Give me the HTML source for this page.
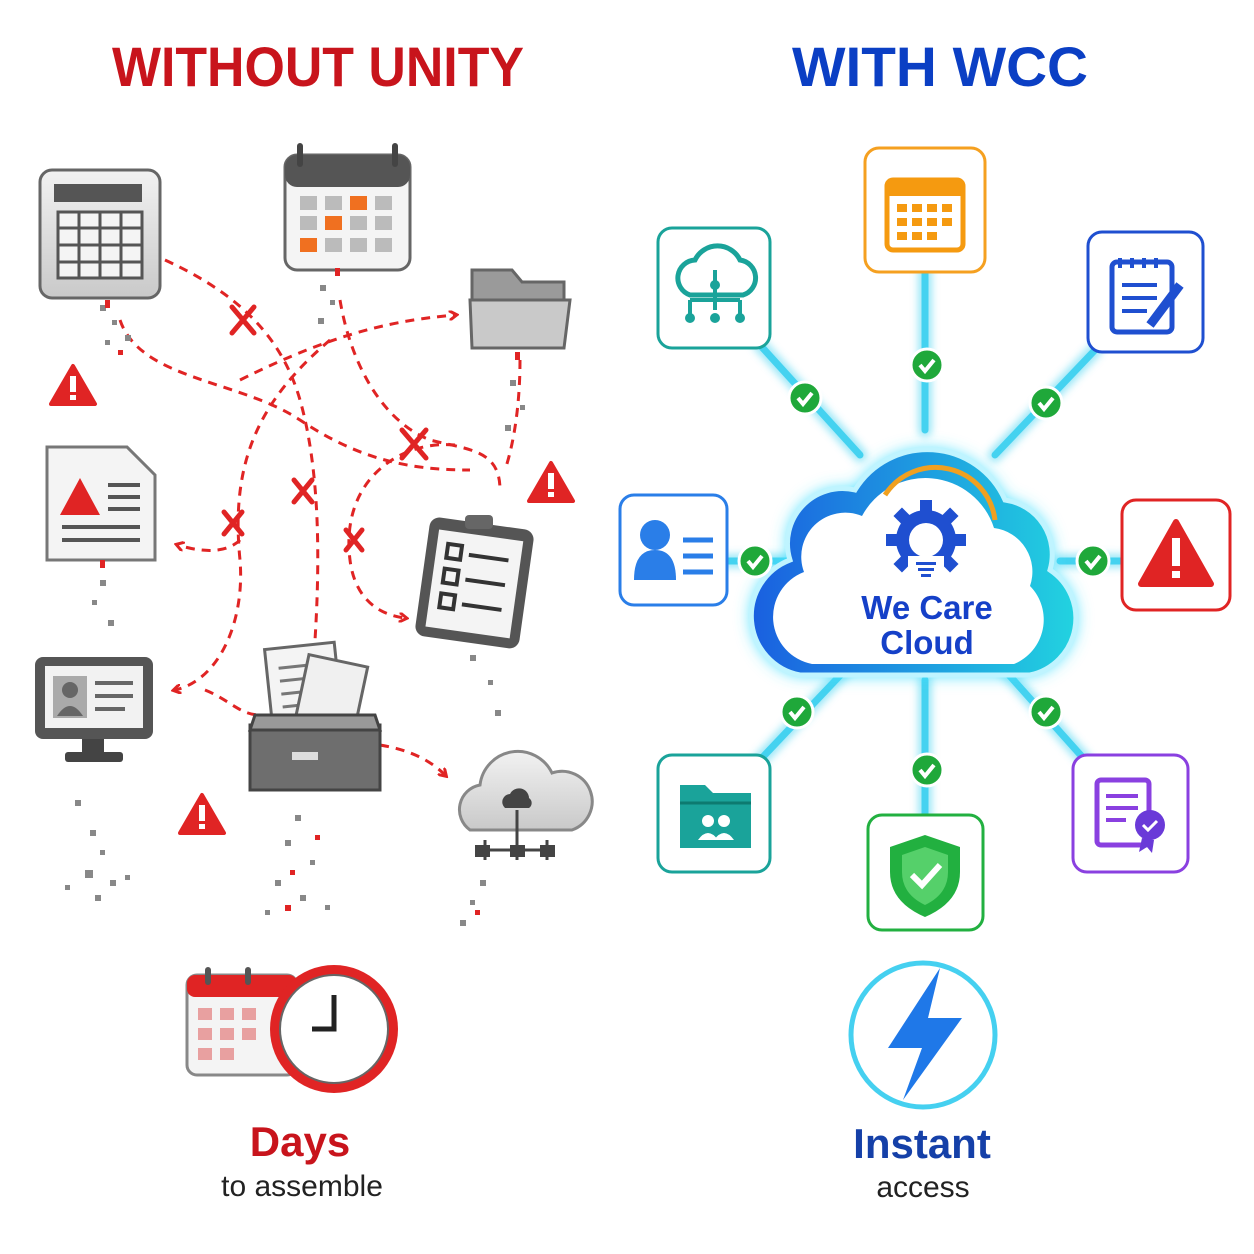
<!DOCTYPE html>
<html><head><meta charset="utf-8"><style>
html,body{margin:0;padding:0;background:#fff;}
svg{display:block;font-family:"Liberation Sans",sans-serif;}
</style></head><body>
<svg width="1254" height="1254" viewBox="0 0 1254 1254" xmlns="http://www.w3.org/2000/svg">
<defs>
<filter id="glow" x="-50%" y="-50%" width="200%" height="200%"><feGaussianBlur stdDeviation="8"/></filter>
<filter id="g2" x="-50%" y="-50%" width="200%" height="200%"><feGaussianBlur stdDeviation="4"/></filter>
<linearGradient id="cg" x1="0" y1="0" x2="1" y2="0"><stop offset="0" stop-color="#1a5fe0"/><stop offset="1" stop-color="#22d3e0"/></linearGradient>
<linearGradient id="gray" x1="0" y1="0" x2="0" y2="1"><stop offset="0" stop-color="#f2f2f2"/><stop offset="1" stop-color="#c9c9c9"/></linearGradient>
<marker id="ar" markerWidth="10" markerHeight="10" refX="6" refY="5" orient="auto" markerUnits="userSpaceOnUse"><path d="M0 0 L8 5 L0 10" fill="none" stroke="#e02424" stroke-width="3"/></marker>
</defs>
<rect width="1254" height="1254" fill="#fff"/>
<text x="318" y="86" text-anchor="middle" font-size="56" font-weight="bold" fill="#c8141c" textLength="412" lengthAdjust="spacingAndGlyphs">WITHOUT UNITY</text>
<text x="940" y="86" text-anchor="middle" font-size="56" font-weight="bold" fill="#0b3fc4" textLength="296" lengthAdjust="spacingAndGlyphs">WITH WCC</text>

<g fill="none" stroke="#e02424" stroke-width="3" stroke-dasharray="9,7">
<path d="M165 260 C230 290 280 330 300 400 C320 470 320 560 315 640"/>
<path d="M120 320 C140 380 240 380 300 420 C360 460 410 470 470 470"/>
<path d="M240 380 C340 330 400 320 455 315" marker-end="url(#ar)"/>
<path d="M340 300 C350 360 380 420 430 440 C470 450 500 450 500 490"/>
<path d="M455 445 C400 440 340 480 350 560 C355 600 380 615 405 618" marker-end="url(#ar)"/>
<path d="M330 340 C260 400 230 460 240 560 C245 620 220 680 175 690" marker-end="url(#ar)"/>
<path d="M240 540 C230 550 210 555 178 545" marker-end="url(#ar)"/>
<path d="M205 690 C230 700 240 715 260 715"/>
<path d="M380 745 C410 750 430 760 445 775" marker-end="url(#ar)"/>
<path d="M520 360 C520 400 515 440 505 470"/>
</g>
<g stroke="#e02424" stroke-width="5" stroke-linecap="round">
<path d="M232 307l22 26M254 307l-22 26"/><path d="M402 430l24 28M426 430l-24 28"/>
<path d="M294 480l18 22M312 480l-18 22"/><path d="M224 512l18 22M242 512l-18 22"/><path d="M346 530l16 20M362 530l-16 20"/>
</g>
<g>
<path d="M73 366 L95 404 L51 404 Z" fill="#e02424" stroke="#e02424" stroke-linejoin="round" stroke-width="4"/>
<path d="M551 463 L573 501 L529 501 Z" fill="#e02424" stroke="#e02424" stroke-linejoin="round" stroke-width="4"/>
<path d="M202 795 L224 833 L180 833 Z" fill="#e02424" stroke="#e02424" stroke-linejoin="round" stroke-width="4"/>
<g fill="#fff"><rect x="70" y="376" width="6" height="16"/><rect x="70" y="395" width="6" height="5"/><rect x="548" y="473" width="6" height="16"/><rect x="548" y="492" width="6" height="5"/><rect x="199" y="805" width="6" height="16"/><rect x="199" y="824" width="6" height="5"/></g>
</g>
<rect x="40" y="170" width="120" height="128" rx="12" fill="url(#gray)" stroke="#666" stroke-width="3"/>
<rect x="54" y="184" width="88" height="18" fill="#555"/>
<g stroke="#555" stroke-width="3" fill="#f4f4f4"><rect x="58" y="212" width="84" height="66"/><path d="M58 228h84M58 245h84M58 262h84M79 212v66M100 212v66M121 212v66"/></g>
<rect x="285" y="155" width="125" height="115" rx="12" fill="#f4f4f4" stroke="#666" stroke-width="3"/>
<rect x="285" y="155" width="125" height="32" rx="12" fill="#555"/>
<rect x="297" y="143" width="6" height="24" rx="3" fill="#444"/><rect x="392" y="143" width="6" height="24" rx="3" fill="#444"/>
<g fill="#bbb"><rect x="300" y="196" width="17" height="14"/><rect x="325" y="196" width="17" height="14"/><rect x="350" y="196" width="17" height="14" fill="#f07020"/><rect x="375" y="196" width="17" height="14"/>
<rect x="300" y="216" width="17" height="14"/><rect x="325" y="216" width="17" height="14" fill="#f07020"/><rect x="350" y="216" width="17" height="14"/><rect x="375" y="216" width="17" height="14"/>
<rect x="300" y="238" width="17" height="14" fill="#f07020"/><rect x="325" y="238" width="17" height="14"/><rect x="350" y="238" width="17" height="14"/><rect x="375" y="238" width="17" height="14"/></g>
<path d="M472 270 h40 l10 12 h42 v65 h-92 z" fill="#9a9a9a" stroke="#666" stroke-width="3"/>
<path d="M470 300 h100 l-6 48 h-92 z" fill="#c9c9c9" stroke="#666" stroke-width="3"/>
<path d="M47 447 h80 l28 28 v85 h-108 z" fill="#f4f4f4" stroke="#777" stroke-width="3"/>
<path d="M80 478 L100 515 L60 515 Z" fill="#e02424"/>
<g stroke="#555" stroke-width="4"><path d="M108 485h32M108 497h32M108 509h32M62 527h78M62 540h78"/></g>
<rect x="422" y="523" width="105" height="120" rx="10" fill="#555" transform="rotate(8 475 583)"/>
<rect x="432" y="535" width="85" height="98" fill="#f4f4f4" transform="rotate(8 475 583)"/>
<rect x="465" y="515" width="28" height="14" rx="4" fill="#666"/>
<g stroke="#333" stroke-width="4" fill="none" transform="rotate(8 475 583)"><rect x="443" y="548" width="14" height="14"/><rect x="443" y="573" width="14" height="14"/><rect x="443" y="598" width="14" height="14"/><path d="M465 556h40M465 581h40M465 606h40"/></g>
<rect x="35" y="657" width="118" height="82" rx="8" fill="#555"/>
<rect x="45" y="666" width="98" height="62" fill="#f2f2f2"/>
<rect x="53" y="676" width="34" height="42" fill="#aaa"/><circle cx="70" cy="690" r="8" fill="#666"/><path d="M57 716 q13 -20 26 0z" fill="#666"/>
<g stroke="#666" stroke-width="4"><path d="M95 683h38M95 696h38M95 709h30"/></g>
<rect x="82" y="739" width="22" height="14" fill="#444"/><rect x="65" y="752" width="58" height="10" rx="3" fill="#444"/>
<g transform="rotate(-6 310 680)"><rect x="268" y="645" width="70" height="90" fill="#f4f4f4" stroke="#666" stroke-width="3"/><g stroke="#777" stroke-width="3"><path d="M280 665h45M280 678h45M280 691h45M280 704h45"/></g></g>
<rect x="300" y="660" width="60" height="80" fill="#f0f0f0" stroke="#666" stroke-width="3" transform="rotate(12 330 700)"/>
<path d="M250 725 h130 v65 h-130 z" fill="#6e6e6e" stroke="#444" stroke-width="3"/>
<path d="M255 715 h120 l5 15 h-130 z" fill="#999" stroke="#444" stroke-width="3"/>
<rect x="292" y="752" width="26" height="8" fill="#ddd"/>
<path d="M470 830 a25 25 0 0 1 10 -45 a38 38 0 0 1 72 -12 a28 28 0 0 1 20 57 z" fill="url(#gray)" stroke="#888" stroke-width="3"/>
<path d="M505 808 a8 8 0 0 1 5 -14 a10 10 0 0 1 19 4 a6 6 0 0 1 0 10z" fill="#444"/>
<path d="M517 810v30M485 850h62M485 840v20M517 840v20M547 840v20" stroke="#444" stroke-width="3"/>
<rect x="475" y="845" width="15" height="12" fill="#444"/><rect x="510" y="845" width="15" height="12" fill="#444"/><rect x="540" y="845" width="15" height="12" fill="#444"/>
<g fill="#888">
<rect x="100" y="305" width="6" height="6"/><rect x="112" y="320" width="5" height="5"/><rect x="125" y="335" width="6" height="6"/><rect x="105" y="340" width="5" height="5"/>
<rect x="320" y="285" width="6" height="6"/><rect x="330" y="300" width="5" height="5"/><rect x="318" y="318" width="6" height="6"/>
<rect x="510" y="380" width="6" height="6"/><rect x="520" y="405" width="5" height="5"/><rect x="505" y="425" width="6" height="6"/>
<rect x="100" y="580" width="6" height="6"/><rect x="92" y="600" width="5" height="5"/><rect x="108" y="620" width="6" height="6"/>
<rect x="470" y="655" width="6" height="6"/><rect x="488" y="680" width="5" height="5"/><rect x="495" y="710" width="6" height="6"/>
<rect x="75" y="800" width="6" height="6"/><rect x="90" y="830" width="6" height="6"/><rect x="100" y="850" width="5" height="5"/><rect x="85" y="870" width="8" height="8"/><rect x="110" y="880" width="6" height="6"/><rect x="65" y="885" width="5" height="5"/><rect x="95" y="895" width="6" height="6"/><rect x="125" y="875" width="5" height="5"/>
<rect x="295" y="815" width="6" height="6"/><rect x="285" y="840" width="6" height="6"/><rect x="310" y="860" width="5" height="5"/><rect x="275" y="880" width="6" height="6"/><rect x="300" y="895" width="6" height="6"/><rect x="325" y="905" width="5" height="5"/><rect x="265" y="910" width="5" height="5"/>
<rect x="480" y="880" width="6" height="6"/><rect x="470" y="900" width="5" height="5"/><rect x="460" y="920" width="6" height="6"/>
</g>
<g fill="#e02424"><rect x="118" y="350" width="5" height="5"/><rect x="290" y="870" width="5" height="5"/><rect x="315" y="835" width="5" height="5"/><rect x="285" y="905" width="6" height="6"/><rect x="475" y="910" width="5" height="5"/><rect x="100" y="560" width="5" height="8"/><rect x="335" y="268" width="5" height="8"/><rect x="515" y="352" width="5" height="8"/><rect x="105" y="300" width="5" height="8"/></g>
<rect x="187" y="975" width="110" height="100" rx="10" fill="#f4f4f4" stroke="#888" stroke-width="3"/>
<rect x="187" y="975" width="110" height="22" rx="8" fill="#e02424"/>
<rect x="205" y="967" width="6" height="18" rx="3" fill="#555"/><rect x="245" y="967" width="6" height="18" rx="3" fill="#555"/>
<g fill="#e8a0a0"><rect x="198" y="1008" width="14" height="12"/><rect x="220" y="1008" width="14" height="12"/><rect x="242" y="1008" width="14" height="12"/><rect x="198" y="1028" width="14" height="12"/><rect x="220" y="1028" width="14" height="12"/><rect x="242" y="1028" width="14" height="12"/><rect x="198" y="1048" width="14" height="12"/><rect x="220" y="1048" width="14" height="12"/></g>
<circle cx="334" cy="1029" r="64" fill="#e02424"/><circle cx="334" cy="1029" r="54" fill="#fff" stroke="#666" stroke-width="2"/>
<path d="M334 995v34h-22" stroke="#222" stroke-width="5" fill="none"/>
<text x="300" y="1156" text-anchor="middle" font-size="42" font-weight="bold" fill="#c8141c">Days</text>
<text x="302" y="1196" text-anchor="middle" font-size="30" fill="#222">to assemble</text>

<g stroke="#3ad0f0" stroke-width="14" stroke-linecap="round" opacity="0.5" filter="url(#g2)">
<path d="M760 345 L860 455"/><path d="M925 272 L925 430"/><path d="M1095 350 L995 455"/>
<path d="M727 561 L790 561"/><path d="M1122 561 L1060 561"/>
<path d="M760 760 L850 665"/><path d="M925 680 L925 815"/><path d="M1085 760 L1000 665"/>
</g>
<g stroke="#3ad0f0" stroke-width="7" stroke-linecap="round" opacity="0.9">
<path d="M760 345 L860 455"/><path d="M925 272 L925 430"/><path d="M1095 350 L995 455"/>
<path d="M727 561 L790 561"/><path d="M1122 561 L1060 561"/>
<path d="M760 760 L850 665"/><path d="M925 680 L925 815"/><path d="M1085 760 L1000 665"/>
</g>
<path d="M800 675 a60 60 0 0 1 -10 -115 a55 55 0 0 1 65 -70 a85 85 0 0 1 150 10 a55 55 0 0 1 45 70 a58 58 0 0 1 -20 105 z" fill="#40e0ff" filter="url(#glow)"/>
<path d="M800 675 a60 60 0 0 1 -10 -115 a55 55 0 0 1 65 -70 a85 85 0 0 1 150 10 a55 55 0 0 1 45 70 a58 58 0 0 1 -20 105 z" fill="url(#cg)" stroke="#bff4ff" stroke-width="5"/>
<path d="M812 664 a48 48 0 0 1 -8 -92 a44 44 0 0 1 58 -56 a72 72 0 0 1 132 12 a44 44 0 0 1 36 58 a48 48 0 0 1 -16 78 z" fill="#fff"/>
<path d="M885 495 a60 60 0 0 1 110 25" stroke="#f0a020" stroke-width="5" fill="none"/>
<g fill="#1f4fd0"><circle cx="926" cy="540" r="30"/><circle cx="926" cy="540" r="17" fill="#fff"/>
<g transform="translate(926 540)"><rect x="-6" y="-40" width="12" height="14"/><rect x="-6" y="-40" width="12" height="14" transform="rotate(45)"/><rect x="-6" y="-40" width="12" height="14" transform="rotate(90)"/><rect x="-6" y="-40" width="12" height="14" transform="rotate(-45)"/><rect x="-6" y="-40" width="12" height="14" transform="rotate(-90)"/><rect x="-6" y="-40" width="12" height="14" transform="rotate(135)"/><rect x="-6" y="-40" width="12" height="14" transform="rotate(-135)"/></g></g>
<rect x="908" y="556" width="36" height="18" fill="#fff"/>
<g fill="#1f4fd0"><rect x="916" y="562" width="20" height="3"/><rect x="918" y="568" width="16" height="3"/><rect x="921" y="574" width="10" height="3"/></g>
<text x="927" y="619" text-anchor="middle" font-size="33" font-weight="bold" fill="#1540c8">We Care</text>
<text x="927" y="654" text-anchor="middle" font-size="33" font-weight="bold" fill="#1540c8">Cloud</text>
<g>
<g transform="translate(805 398)"><circle r="16" fill="#1fa83a" stroke="#fff" stroke-width="3"/><path d="M-7 0l5 6l9 -11" stroke="#fff" stroke-width="4" fill="none"/></g>
<g transform="translate(927 365)"><circle r="16" fill="#1fa83a" stroke="#fff" stroke-width="3"/><path d="M-7 0l5 6l9 -11" stroke="#fff" stroke-width="4" fill="none"/></g>
<g transform="translate(1046 403)"><circle r="16" fill="#1fa83a" stroke="#fff" stroke-width="3"/><path d="M-7 0l5 6l9 -11" stroke="#fff" stroke-width="4" fill="none"/></g>
<g transform="translate(755 561)"><circle r="16" fill="#1fa83a" stroke="#fff" stroke-width="3"/><path d="M-7 0l5 6l9 -11" stroke="#fff" stroke-width="4" fill="none"/></g>
<g transform="translate(1093 561)"><circle r="16" fill="#1fa83a" stroke="#fff" stroke-width="3"/><path d="M-7 0l5 6l9 -11" stroke="#fff" stroke-width="4" fill="none"/></g>
<g transform="translate(797 712)"><circle r="16" fill="#1fa83a" stroke="#fff" stroke-width="3"/><path d="M-7 0l5 6l9 -11" stroke="#fff" stroke-width="4" fill="none"/></g>
<g transform="translate(927 770)"><circle r="16" fill="#1fa83a" stroke="#fff" stroke-width="3"/><path d="M-7 0l5 6l9 -11" stroke="#fff" stroke-width="4" fill="none"/></g>
<g transform="translate(1046 712)"><circle r="16" fill="#1fa83a" stroke="#fff" stroke-width="3"/><path d="M-7 0l5 6l9 -11" stroke="#fff" stroke-width="4" fill="none"/></g>
</g>
<g fill="#fff" stroke-width="3">
<rect x="865" y="148" width="120" height="124" rx="14" stroke="#f5a020"/>
<rect x="658" y="228" width="112" height="120" rx="14" stroke="#1aa39a"/>
<rect x="1088" y="232" width="115" height="120" rx="14" stroke="#1f4fd0"/>
<rect x="620" y="495" width="107" height="110" rx="14" stroke="#2a7ee8"/>
<rect x="1122" y="500" width="108" height="110" rx="14" stroke="#e02424"/>
<rect x="658" y="755" width="112" height="117" rx="14" stroke="#1aa39a"/>
<rect x="868" y="815" width="115" height="115" rx="14" stroke="#22b040"/>
<rect x="1073" y="755" width="115" height="117" rx="14" stroke="#8a40e0"/>
</g>
<rect x="887" y="180" width="76" height="70" rx="6" fill="#fff" stroke="#f59a10" stroke-width="5"/>
<rect x="887" y="180" width="76" height="16" fill="#f59a10"/>
<g fill="#f59a10"><rect x="897" y="204" width="10" height="8"/><rect x="912" y="204" width="10" height="8"/><rect x="927" y="204" width="10" height="8"/><rect x="942" y="204" width="10" height="8"/><rect x="897" y="218" width="10" height="8"/><rect x="912" y="218" width="10" height="8"/><rect x="927" y="218" width="10" height="8"/><rect x="942" y="218" width="10" height="8"/><rect x="897" y="232" width="10" height="8"/><rect x="912" y="232" width="10" height="8"/><rect x="927" y="232" width="10" height="8"/></g>
<path d="M690 295 a18 18 0 0 1 5 -35 a25 25 0 0 1 45 0 a18 18 0 0 1 3 35 z" fill="none" stroke="#1aa39a" stroke-width="5"/>
<path d="M715 270v40M690 300v15M740 300v15M690 300h50" stroke="#1aa39a" stroke-width="4" fill="none"/>
<circle cx="715" cy="285" r="5" fill="#1aa39a"/><circle cx="690" cy="318" r="5" fill="#1aa39a"/><circle cx="715" cy="318" r="5" fill="#1aa39a"/><circle cx="740" cy="318" r="5" fill="#1aa39a"/>
<rect x="1112" y="262" width="60" height="70" rx="5" fill="none" stroke="#1f4fd0" stroke-width="5"/>
<g stroke="#1f4fd0" stroke-width="4"><path d="M1122 285h35M1122 298h35M1122 311h25M1120 258v10M1132 258v10M1144 258v10M1156 258v10"/><path d="M1150 325l30 -40" stroke-width="9"/></g>
<circle cx="655" cy="535" r="15" fill="#2a7ee8"/><path d="M634 580 q0 -30 21 -30 q21 0 21 30 z" fill="#2a7ee8"/>
<g stroke="#2a7ee8" stroke-width="5"><path d="M683 540h30M683 556h30M683 572h30"/></g>
<path d="M1176 522 L1211 584 L1141 584 Z" fill="#e02424" stroke="#e02424" stroke-width="6" stroke-linejoin="round"/>
<rect x="1172" y="538" width="8" height="28" fill="#fff"/><rect x="1172" y="571" width="8" height="7" fill="#fff"/>
<path d="M680 785 h25 l8 8 h38 v55 h-71 z" fill="#1aa39a"/><path d="M680 803 h71" stroke="#0d7a70" stroke-width="3"/>
<circle cx="708" cy="821" r="6" fill="#fff"/><circle cx="724" cy="821" r="6" fill="#fff"/><path d="M698 840 q10 -14 20 0zM714 840 q10 -14 20 0z" fill="#fff"/>
<path d="M925 835 l35 12 v25 q0 30 -35 45 q-35 -15 -35 -45 v-25 z" fill="#22b040"/>
<path d="M925 847 l23 8 v17 q0 22 -23 33 q-23 -11 -23 -33 v-17 z" fill="#55d06a"/>
<path d="M912 875l10 10l18 -20" stroke="#fff" stroke-width="6" fill="none"/>
<rect x="1097" y="780" width="52" height="65" rx="4" fill="none" stroke="#8a40e0" stroke-width="5"/>
<g stroke="#8a40e0" stroke-width="4"><path d="M1106 796h32M1106 808h32M1106 820h20"/></g>
<circle cx="1150" cy="825" r="15" fill="#6a3ad8"/><path d="M1143 825l5 5l9 -9" stroke="#fff" stroke-width="3" fill="none"/><path d="M1142 838 l-3 14 l8 -5 l5 6 l2 -13" fill="#6a3ad8"/>
<circle cx="923" cy="1035" r="72" fill="#fff" stroke="#45d0f0" stroke-width="5"/>
<path d="M940 968 L888 1048 L922 1048 L903 1100 L962 1018 L928 1018 Z" fill="#1f78e8"/>
<text x="922" y="1158" text-anchor="middle" font-size="42" font-weight="bold" fill="#1540a8">Instant</text>
<text x="923" y="1197" text-anchor="middle" font-size="30" fill="#222">access</text>
</svg>
</body></html>
